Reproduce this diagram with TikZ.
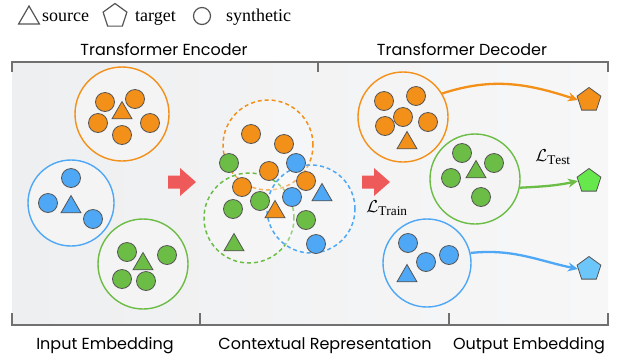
\documentclass[tikz,border=0pt]{standalone}
\usepackage{fontspec}
\setmainfont{Liberation Serif}
\newfontfamily\labfont{Poppins}
\usetikzlibrary{shapes.geometric,arrows.meta}

\definecolor{orgc}{HTML}{F39019}
\definecolor{bluc}{HTML}{4FA8F5}
\definecolor{grnc}{HTML}{6CBD45}
\definecolor{pgrn}{HTML}{66E84C}
\definecolor{pblu}{HTML}{6DC6FA}
\definecolor{edgec}{HTML}{555555}
\definecolor{bracec}{HTML}{707070}
\definecolor{bgl}{HTML}{EEEFF0}
\definecolor{bgr}{HTML}{F7F7F8}
\definecolor{grpfill}{HTML}{F4F4F5}
\definecolor{redarr}{HTML}{EE5A5A}

\tikzset{
  dot/.style={circle, draw=edgec, line width=0.8pt, minimum size=19pt, inner sep=0pt},
  tri/.style={regular polygon, regular polygon sides=3, draw=edgec, line width=0.8pt,
              minimum size=23pt, inner sep=0pt},
  pent/.style={regular polygon, regular polygon sides=5, draw=edgec, line width=0.8pt,
               minimum size=25pt, inner sep=0pt},
  group/.style={circle, line width=1.4pt, fill=grpfill, inner sep=0pt},
  dgroup/.style={circle, line width=1.5pt, dash pattern=on 4pt off 3pt,
                 fill=white, fill opacity=0.3, inner sep=0pt},
  brace/.style={draw=bracec, line width=1.4pt},
  head/.style={font=\labfont\fontsize{16pt}{18pt}\selectfont, anchor=base},
  legend/.style={font=\fontsize{18pt}{20pt}\selectfont, anchor=base west, inner sep=0pt},
  flow/.style={line width=2.3pt, -{Stealth[length=10pt,width=9pt]}},
  loss/.style={font=\fontsize{19pt}{22pt}\selectfont, inner sep=0pt},
}

\newcommand{\blockarrow}[2]{%
  \fill[redarr] (#1-14,#2-6.5) -- (#1-2,#2-6.5) -- (#1-2,#2-14) -- (#1+14,#2)
    -- (#1-2,#2+14) -- (#1-2,#2+6.5) -- (#1-14,#2+6.5) -- cycle;}

\begin{document}
\begin{tikzpicture}[x=1pt,y=-1pt]
\useasboundingbox (0,0) rectangle (623,360);
\fill[white] (0,0) rectangle (623,360);

% panel background
\shade[left color=bgl, right color=bgr] (12,62) rectangle (608,325);

% brackets
\draw[brace] (12,72) -- (12,62) -- (608,62) -- (608,72);
\draw[brace] (318,62) -- (318,72);
\draw[brace] (12,313) -- (12,325) -- (608,325) -- (608,313);
\draw[brace] (200,325) -- (200,313);
\draw[brace] (449,325) -- (449,313);

% legend
\node[tri, minimum size=24pt, fill=none, line width=1.2pt] (lgtri) at (29,18) {};
\node[legend] (lgsrc) at (42,21) {source};
\node[pent, fill=none, line width=1.2pt] (lgpent) at (115,16) {};
\node[legend] (lgtgt) at (135,21) {target};
\node[circle, draw=edgec, line width=1.2pt, minimum size=17pt, inner sep=0pt] (lgdot) at (202,16) {};
\node[legend] (lgsyn) at (226,21) {synthetic};

% section titles
\node[head] (tenc) at (164,55) {Transformer Encoder};
\node[head] (tdec) at (462,55) {Transformer Decoder};
\node[head] (tin) at (105,349) {Input Embedding};
\node[head] (tctx) at (325,349) {Contextual Representation};
\node[head] (tout) at (529,349) {Output Embedding};

% ---- input embedding ----
\node[group, draw=orgc, minimum size=94pt] (eo) at (122,114) {};
\node[group, draw=bluc, minimum size=86pt] (eb) at (71,203) {};
\node[group, draw=grnc, minimum size=90pt] (eg) at (143,264) {};
\foreach \x/\y [count=\i] in {105/102,135/99,98/123,150/123,122/135}
  \node[dot, fill=orgc] (eod\i) at (\x,\y) {};
\node[tri, fill=orgc] (eot) at (122,113) {};
\foreach \x/\y [count=\i] in {71/178,48/203,93/219}
  \node[dot, fill=bluc] (ebd\i) at (\x,\y) {};
\node[tri, fill=bluc] (ebt) at (71,207) {};
\foreach \x/\y [count=\i] in {127/252,167/255,122/279,146/281}
  \node[dot, fill=grnc] (egd\i) at (\x,\y) {};
\node[tri, fill=grnc] (egt) at (143,264) {};

\blockarrow{182}{182}

% ---- contextual representation ----
\node[dgroup, draw=orgc, minimum size=90pt] (co) at (268,145) {};
\node[dgroup, draw=grnc, minimum size=90pt] (cg) at (249,218) {};
\node[dgroup, draw=bluc, minimum size=88pt] (cb) at (311,209) {};
\foreach \x/\y [count=\i] in {251/134,284/144,269/171,242/187,306/181}
  \node[dot, fill=orgc] (cod\i) at (\x,\y) {};
\foreach \x/\y [count=\i] in {229/163,260/201,233/209,306/220}
  \node[dot, fill=grnc] (cgd\i) at (\x,\y) {};
\foreach \x/\y [count=\i] in {296/163,292/197,316/244}
  \node[dot, fill=bluc] (cbd\i) at (\x,\y) {};
\node[tri, fill=bluc] (cbt) at (322,195) {};
\node[tri, fill=orgc] (cot) at (275,212) {};
\node[tri, fill=grnc] (cgt) at (234,245) {};

\blockarrow{376}{182}
\node[loss] (ltrain) at (387,208) {$\mathcal{L}_{\mathrm{Train}}$};

% ---- output embedding ----
\node[group, draw=orgc, minimum size=90pt] (do) at (403,117) {};
\node[group, draw=grnc, minimum size=90pt] (dg) at (475,179) {};
\node[group, draw=bluc, minimum size=88pt] (db) at (427,263) {};
\foreach \x/\y [count=\i] in {384/101,416/96,403/117,385/126,428/122}
  \node[dot, fill=orgc] (dod\i) at (\x,\y) {};
\node[tri, fill=orgc] (dot) at (407,143) {};
\foreach \x/\y [count=\i] in {462/153,494/163,451/178,481/197}
  \node[dot, fill=grnc] (dgd\i) at (\x,\y) {};
\node[tri, fill=grnc] (dgt) at (476,172) {};
\foreach \x/\y [count=\i] in {408/243,449/255,426/262}
  \node[dot, fill=bluc] (dbd\i) at (\x,\y) {};
\node[tri, fill=bluc] (dbt) at (407,276) {};

% targets
\node[pent, fill=orgc] (po) at (589,100) {};
\node[pent, fill=pgrn] (pg) at (589,181) {};
\node[pent, fill=pblu] (pb) at (589,269) {};

\node[loss] (ltest) at (553,157) {$\mathcal{L}_{\mathrm{Test}}$};

% predictions
\draw[flow, draw=orgc, color=orgc] (do.31) to[out=18,in=162] (po.west);
\draw[flow, draw=grnc, color=grnc] (dg.-11) to[out=3,in=192] (pg.west);
\draw[flow, draw=bluc, color=bluc] (db.13) to[out=6,in=168] (pb.west);
\end{tikzpicture}
\end{document}
